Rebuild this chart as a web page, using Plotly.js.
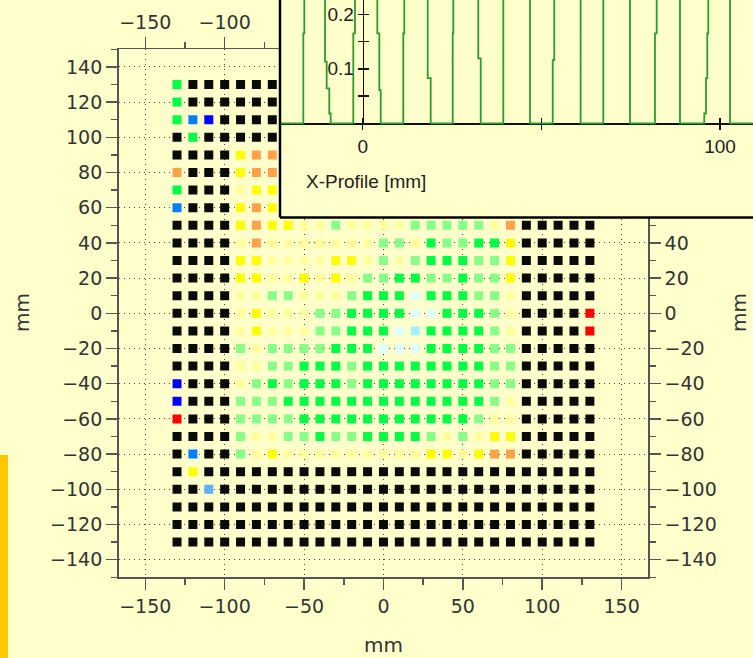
<!DOCTYPE html>
<html>
<head>
<meta charset="utf-8">
<script src="https://cdn.plot.ly/plotly-3.0.1.min.js"></script>
<style>
  html, body { margin: 0; padding: 0; background: #ffffcc; }
  #chart { width: 753px; height: 658px; }
</style>
</head>
<body>
<div id="chart"></div>
<script>
// Measurement grid (mm)
const gridX = [-130, -120, -110, -100, -90, -80, -70, -60, -50, -40, -30, -20, -10, 0,
               10, 20, 30, 40, 50, 60, 70, 80, 90, 100, 110, 120, 130];
const gridY = [130, 120, 110, 100, 90, 80, 70, 60, 50, 40, 30, 20, 10, 0,
               -10, -20, -30, -40, -50, -60, -70, -80, -90, -100, -110, -120, -130];

// Class of every detector, one string per row (y = 130 ... -130), columns x = -130 ... 130
const cellRows = [
  "GKKKKKKKKKKKKKKKKKKKKKKKKKK",
  "GKKKKKKKKKKKKKKKKKKKKKKKKKK",
  "GMBKKKKKKKKKKKKKKKKKKKKKKKK",
  "KGKKKKKKKKKKKKKKKKKKKKKKKKK",
  "KKKKYOOYYPPPPPPPPPPPYOKKKKK",
  "OKKKYOOYPPPPPPPPPPPPYOKKKKK",
  "GKKKPYYPPPPPPPPPPPPPPYKKKKK",
  "MKKKYOYYPPPPPPPPPPPPPOKKKKK",
  "KKKKYOYYPPLPPPPLLLLLPOKKKKK",
  "KKKKPOPPPPPPPLLPGLLGGYKKKKK",
  "KKKKYYPPPPYYPLPLGGGLLYKKKKK",
  "KKKKYYPPYPYPLLGGLLGLLYKKKKK",
  "KKKKPPLLPPPLGGGCGGGLLPKKKKK",
  "KKKKPYPPPLLGGGGCCGGGLPKKKKR",
  "KKKKPYPPPLLGGGCAGGGGLPKKKKR",
  "KKKKLPLLLLGGGCCCGGGGLLKKKKK",
  "KKKKPPLLGGGLGGGGGGGGLLKKKKK",
  "BKKKPLGLGGGLGGGGGGGGLLKKKKK",
  "BKKKLLLGGGGGGGGGGGGGLPKKKKK",
  "RKKKLLLLGGGGGGGGGGGLPPKKKKK",
  "KKKKLPPLLGLLGGGGLPLPYYKKKKK",
  "KMKKLPYPPPPPPPPPYYPYOOKKKKK",
  "KYKKKKKKKKKKKKKKKKKKKKKKKKK",
  "KKSKKKKKKKKKKKKKKKKKKKKKKKK",
  "KKKKKKKKKKKKKKKKKKKKKKKKKKK",
  "KKKKKKKKKKKKKKKKKKKKKKKKKKK",
  "KKKKKKKKKKKKKKKKKKKKKKKKKKK"
];

const classCodes  = ["K", "G", "L", "P", "Y", "O", "R", "B", "M", "S", "C", "A"];
const classColors = ["#0a0a0a", "#00ff44", "#88ff88", "#ffffa0", "#ffff00", "#ffa24a",
                     "#ff0000", "#0000ff", "#0080ff", "#60b0ff", "#e0ffff", "#a0f0ff"];

// X-profile through the field (mm, relative value)
const profileX = [-23.15, -16.62, -16.62, -16.34, -16.34,
  -10.55, -10.55, -10.08, -10.08, -9.35, -9.35, -8.96, -8.96,
  -2.63, -2.63, -2.16, -2.16,
  4.09, 4.09, 4.65, 4.65, 5.04, 5.04,
  11.36, 11.36, 11.64, 11.64,
  18.19, 18.19, 19.03, 19.03,
  25.19, 25.19, 25.36, 25.36,
  32.35, 32.35, 33.03, 33.03,
  39.35, 39.35,
  46.82, 46.82,
  53.18, 53.18, 53.62, 53.62,
  60.99, 60.99,
  67.34, 67.34,
  74.81, 74.81,
  81.8, 81.8, 82.28, 82.28,
  88.8, 88.8,
  95.6, 95.6, 96.08, 96.08, 96.44, 96.44, 96.72, 96.72,
  102.8, 102.8,
  109.2];
const profileY = [0, 0, 0.165, 0.165, 1,
  1, 0.113, 0.113, 0.064, 0.064, 0.018, 0.018, 0,
  0, 0.165, 0.165, 1,
  1, 0.165, 0.165, 0.061, 0.061, 0,
  0, 0.165, 0.165, 1,
  1, 0.083, 0.083, 0,
  0, 0.165, 0.165, 1,
  1, 0.119, 0.119, 0,
  0, 1,
  1, 0,
  0, 0.116, 0.116, 1,
  1, 0,
  0, 1,
  1, 0,
  0, 0.165, 0.165, 1,
  1, 0,
  0, 0.018, 0.018, 0.083, 0.083, 0.165, 0.165, 1,
  1, 0,
  0];

const profileTickVals = [0, 50, 100];
const profileTickText = ["0", "", "100"];
const profileYTickVals = [0.05, 0.1, 0.15, 0.2];
const profileYTickText = ["", "0.1", "", "0.2"];

// ---------- page geometry (pixels) ----------
const W = 753, H = 658;
const fx = v => v / W;          // pixel -> paper x
const fy = v => 1 - v / H;      // pixel -> paper y

const plotL = 118.6, plotR = 648.3, plotT = 49.3, plotB = 577.3;

// inset geometry
const insetL = 280, insetB = 217.5;
const insetZeroX = 362.7, insetPxPerMm = 3.573;
const insetBaseY = 123.3, insetPxPerUnit = 545;
const insetXRange = [(insetL - insetZeroX) / insetPxPerMm, (W - insetZeroX) / insetPxPerMm];
const insetYLow = -0.004;
const insetYRange = [insetYLow, insetBaseY / insetPxPerUnit];
const insetUpperBottom = fy(insetBaseY - insetYLow * insetPxPerUnit);
const insetXDomain = [fx(insetL), 1];
const insetYAxisPos = insetXDomain[0] +
  (0 - insetXRange[0]) / (insetXRange[1] - insetXRange[0]) * (insetXDomain[1] - insetXDomain[0]);
const insetXAxisPos = insetUpperBottom +
  (0 - insetYRange[0]) / (insetYRange[1] - insetYRange[0]) * (1 - insetUpperBottom);

// ---------- traces ----------
const traces = [];
classCodes.forEach((code, ci) => {
  const xs = [], ys = [];
  cellRows.forEach((row, ri) => {
    for (let c = 0; c < row.length; c++) {
      if (row[c] === code) { xs.push(gridX[c]); ys.push(gridY[ri]); }
    }
  });
  traces.push({
    type: "scatter", mode: "markers", x: xs, y: ys, xaxis: "x", yaxis: "y",
    marker: { symbol: "square", size: 9, color: classColors[ci], line: { width: 0 } },
    hoverinfo: "skip", showlegend: false
  });
});

// companion axes (top / right of the map, inset tick crossings)
traces.push({ type: "scatter", x: [], y: [], xaxis: "x2", yaxis: "y", showlegend: false });
traces.push({ type: "scatter", x: [], y: [], xaxis: "x", yaxis: "y2", showlegend: false });
traces.push({ type: "scatter", x: [], y: [], xaxis: "x3", yaxis: "y3", showlegend: false });

traces.push({
  type: "scatter", mode: "lines", x: profileX, y: profileY, xaxis: "x4", yaxis: "y4",
  line: { color: "#2f9a2f", width: 1.8 }, cliponaxis: false,
  hoverinfo: "skip", showlegend: false
});
traces.push({ type: "scatter", x: [], y: [], xaxis: "x5", yaxis: "y4", showlegend: false });
traces.push({ type: "scatter", x: [], y: [], xaxis: "x4", yaxis: "y5", showlegend: false });

// ---------- layout ----------
const mainFont = { family: "DejaVu Sans", size: 19, color: "#333" };
const titleFont = { family: "DejaVu Sans", size: 20, color: "#333" };
const insetFont = { family: "Liberation Sans, Arial, sans-serif", size: 19, color: "#222" };
const axisGray = "#555";

const mapX = {
  range: [-166.8, 166.8], showline: true, linecolor: axisGray, linewidth: 1.5,
  ticks: "outside", ticklen: 11, tickwidth: 1.5, tickcolor: axisGray,
  tick0: 0, dtick: 50,
  minor: { dtick: 25, ticks: "outside", ticklen: 6, tickwidth: 1.5, tickcolor: axisGray, showgrid: false },
  zeroline: false, tickfont: mainFont, fixedrange: true
};
const mapY = {
  range: [-150, 150], showline: true, linecolor: axisGray, linewidth: 1.5,
  ticks: "outside", ticklen: 11, tickwidth: 1.5, tickcolor: axisGray,
  tick0: 0, dtick: 20,
  minor: { dtick: 10, ticks: "outside", ticklen: 6, tickwidth: 1.5, tickcolor: axisGray, showgrid: false },
  zeroline: false, tickfont: mainFont, fixedrange: true
};

const layout = {
  width: W, height: H,
  margin: { l: 0, r: 0, t: 0, b: 0, pad: 0 },
  paper_bgcolor: "#ffffcc", plot_bgcolor: "#ffffcc",
  showlegend: false, hovermode: false,
  xaxis: Object.assign({}, mapX, {
    domain: [fx(plotL), fx(plotR)], anchor: "y", side: "bottom",
    showgrid: true, gridcolor: "#444", gridwidth: 1, griddash: "1px,4px"
  }),
  xaxis2: Object.assign({}, mapX, { overlaying: "x", anchor: "y", side: "top", showgrid: false }),
  yaxis: Object.assign({}, mapY, {
    domain: [fy(plotB), fy(plotT)], anchor: "x", side: "left",
    showgrid: true, gridcolor: "#444", gridwidth: 1, griddash: "1px,4px"
  }),
  yaxis2: Object.assign({}, mapY, { overlaying: "y", anchor: "x", side: "right", showgrid: false }),

  // inset: lower band (labels area) and upper profile area
  xaxis3: { domain: insetXDomain, range: [0, 1], anchor: "y3", showline: false, showgrid: false,
            zeroline: false, ticks: "", showticklabels: false, fixedrange: true },
  yaxis3: { domain: [fy(insetB), insetUpperBottom], range: [0, 1], anchor: "x3", showline: false,
            showgrid: false, zeroline: false, ticks: "", showticklabels: false, fixedrange: true },

  xaxis4: { domain: insetXDomain, range: insetXRange, anchor: "free", position: insetXAxisPos,
            side: "bottom", showline: true, linecolor: "#111", linewidth: 1.5, layer: "below traces",
            ticks: "outside", ticklen: 5, tickwidth: 1.5, tickcolor: "#111",
            tickmode: "array", tickvals: profileTickVals, ticktext: profileTickText,
            showgrid: false, zeroline: false, tickfont: insetFont, fixedrange: true },
  xaxis5: { overlaying: "x4", range: insetXRange, anchor: "free", position: insetXAxisPos,
            side: "bottom", showline: false, ticks: "inside", ticklen: 5, tickwidth: 1.5,
            tickcolor: "#111", tickmode: "array", tickvals: profileTickVals,
            showticklabels: false, showgrid: false, zeroline: false, fixedrange: true },
  yaxis4: { domain: [insetUpperBottom, 1], range: insetYRange, anchor: "free", position: insetYAxisPos,
            side: "left", showline: true, linecolor: "#111", linewidth: 1.5,
            ticks: "outside", ticklen: 5, tickwidth: 1.5, tickcolor: "#111",
            tickmode: "array", tickvals: profileYTickVals, ticktext: profileYTickText,
            showgrid: false, zeroline: false, tickfont: insetFont, fixedrange: true },
  yaxis5: { overlaying: "y4", range: insetYRange, anchor: "free", position: insetYAxisPos,
            side: "left", showline: false, ticks: "inside", ticklen: 5, tickwidth: 1.5,
            tickcolor: "#111", tickmode: "array", tickvals: profileYTickVals,
            showticklabels: false, showgrid: false, zeroline: false, fixedrange: true },

  annotations: [
    { text: "mm", xref: "paper", yref: "paper", x: fx(383.5), y: fy(645), xanchor: "center",
      yanchor: "middle", showarrow: false, font: titleFont },
    { text: "mm", xref: "paper", yref: "paper", x: fx(22), y: fy(313), xanchor: "center",
      yanchor: "middle", textangle: -90, showarrow: false, font: titleFont },
    { text: "mm", xref: "paper", yref: "paper", x: fx(739), y: fy(313), xanchor: "center",
      yanchor: "middle", textangle: -90, showarrow: false, font: titleFont },
    { text: "X-Profile [mm]", xref: "paper", yref: "paper", x: fx(304), y: fy(181),
      xanchor: "left", yanchor: "middle", showarrow: false, font: insetFont }
  ],
  shapes: [
    { type: "rect", xref: "paper", yref: "paper", x0: 0, x1: fx(8), y0: 0, y1: fy(455),
      fillcolor: "#ffc800", line: { width: 0 }, layer: "below" },
    { type: "line", xref: "paper", yref: "paper", x0: insetXDomain[0], x1: insetXDomain[0],
      y0: fy(insetB), y1: 1, line: { color: "#000", width: 2.5 }, layer: "above" },
    { type: "line", xref: "paper", yref: "paper", x0: insetXDomain[0], x1: 1,
      y0: fy(insetB), y1: fy(insetB), line: { color: "#000", width: 2.5 }, layer: "above" }
  ]
};

Plotly.newPlot("chart", traces, layout, { staticPlot: true, displayModeBar: false });
</script>
</body>
</html>
